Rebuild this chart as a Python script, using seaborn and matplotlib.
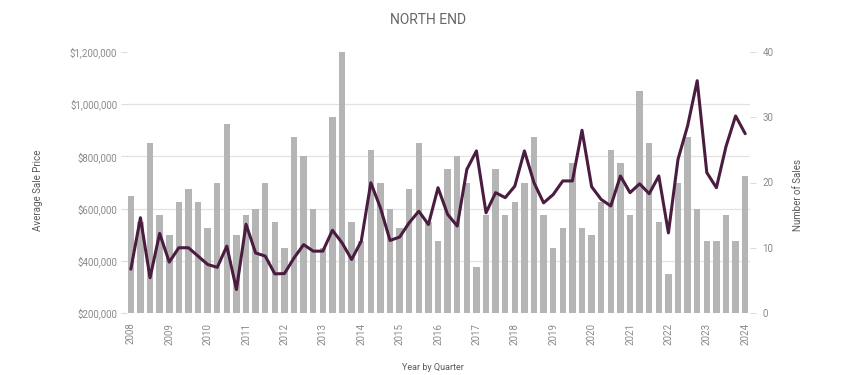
import numpy as np
import pandas as pd
import matplotlib
matplotlib.use("Agg")
import matplotlib.pyplot as plt
from matplotlib.ticker import FuncFormatter, MultipleLocator
import seaborn as sns

# Quarterly figures, 2008 Q1 through 2024 Q1
years = list(range(2008, 2025))
quarters = [f"{y} Q{q}" for y in years for q in range(1, 5)][:65]

num_sales = [
    18, 14, 26, 15, 12, 17, 19, 17,
    13, 20, 29, 12, 15, 16, 20, 14,
    10, 27, 24, 16, 10, 30, 40, 14,
    11, 25, 20, 16, 13, 19, 26, 14,
    11, 22, 24, 20, 7, 15, 22, 15,
    17, 20, 27, 15, 10, 13, 23, 13,
    12, 17, 25, 23, 15, 34, 26, 14,
    6, 20, 27, 16, 11, 11, 15, 11,
    21,
]

avg_price = [
    368000, 565000, 335000, 505000, 395000, 450000, 450000, 418000,
    386000, 375000, 456000, 290000, 540000, 430000, 418000, 350000,
    351000, 411000, 462000, 437000, 437000, 517000, 469000, 405000,
    475000, 699000, 603000, 478000, 491000, 546000, 590000, 539000,
    680000, 578000, 533000, 750000, 821000, 584000, 661000, 642000,
    686000, 821000, 699000, 622000, 654000, 706000, 706000, 900000,
    684000, 635000, 610000, 725000, 661000, 695000, 657000, 725000,
    507000, 789000, 917000, 1090000, 738000, 680000, 838000, 955000,
    887000,
]

df = pd.DataFrame({"quarter": quarters, "sales": num_sales, "price": avg_price})
df["pos"] = np.arange(len(df))

sns.set_theme(style="white")
plt.rcParams["font.family"] = ["Roboto", "DejaVu Sans"]

W, H = 844, 375
fig = plt.figure(figsize=(W / 100, H / 100), dpi=100)
fig.patch.set_facecolor("white")

# Bars (number of sales) on the base axes, scale shown on the right
ax = fig.add_axes([127 / W, 1 - 313 / H, 623 / W, 261 / H])
sns.barplot(data=df, x="quarter", y="sales", color="#b5b5b5", saturation=1,
            width=0.68, linewidth=0, ax=ax, zorder=2)

# Average sale price line on a twin axes, scale shown on the left
ax2 = ax.twinx()
sns.lineplot(x=df["pos"], y=df["price"], ax=ax2, color="#4a1c3f",
             linewidth=2.2, zorder=3)

ax.yaxis.tick_right()
ax.yaxis.set_label_position("right")
ax2.yaxis.tick_left()
ax2.yaxis.set_label_position("left")

ax.set_xlim(-0.4, 64.5)
ax.set_ylim(0, 40)
ax.set_yticks(range(0, 41, 10))
ax2.set_ylim(200000, 1200000)
ax2.set_yticks(range(200000, 1200001, 200000))
ax2.yaxis.set_major_formatter(FuncFormatter(lambda v, _: f"${v:,.0f}"))

# horizontal grid follows the price ticks (every 8 sales = $200,000)
ax.yaxis.set_minor_locator(MultipleLocator(8))
ax.grid(False, which="major")
ax.grid(True, which="minor", axis="y", color="#e2e2e2", linewidth=0.9)
ax.set_axisbelow(True)

ax.set_xticks(range(0, 65, 4))
ax.set_xticklabels([str(y) for y in years], rotation=90)

tick_color = "#8a8a8a"
ax.tick_params(axis="x", length=0, pad=7, labelsize=7, labelcolor=tick_color)
ax.tick_params(axis="y", which="major", length=4, color="#dddddd", width=0.8,
               pad=5, labelsize=7, labelcolor=tick_color)
ax.tick_params(axis="y", which="minor", length=0)
ax2.tick_params(axis="y", length=4, color="#dddddd", width=0.8, pad=3,
                labelsize=7, labelcolor=tick_color)

for a in (ax, ax2):
    for s in a.spines.values():
        s.set_visible(False)
    a.set_xlabel("")
    a.set_ylabel("")

label_color = "#5a5a5a"
fig.text(428 / W, 1 - 20 / H, "NORTH END", ha="center", va="center",
         fontsize=10, color="#666666")
fig.text(433 / W, 1 - 367 / H, "Year by Quarter", ha="center", va="center",
         fontsize=6.5, color=label_color)
fig.text(38 / W, 1 - 190 / H, "Average Sale Price", ha="center", va="center",
         rotation=90, fontsize=7, color=label_color)
fig.text(798 / W, 1 - 195 / H, "Number of Sales", ha="center", va="center",
         rotation=90, fontsize=7, color=label_color)

fig.savefig("out.png", dpi=100)
